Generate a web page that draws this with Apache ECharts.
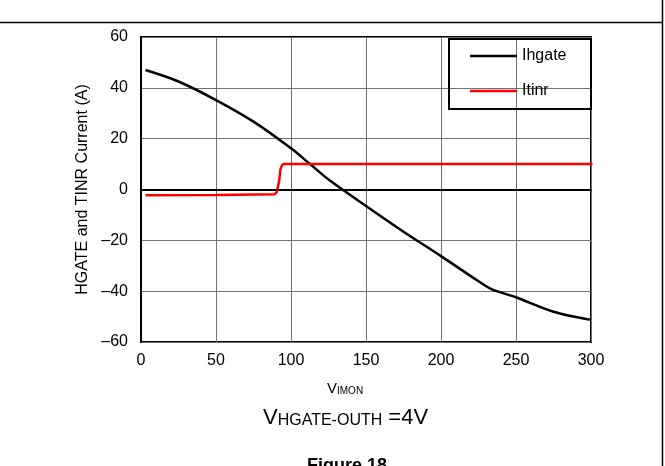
<!DOCTYPE html>
<html>
<head>
<meta charset="utf-8">
<script src="https://cdn.jsdelivr.net/npm/echarts@6/dist/echarts.min.js"></script>
<style>
html,body{margin:0;padding:0;background:#fff;}
#chart{width:665px;height:466px;}
</style>
</head>
<body>
<div id="chart"></div>
<script>
// Data
var ihgateX = [3, 25, 50, 75, 100, 112.7, 125.5, 150, 175, 200, 225, 234, 250, 275, 300];
var ihgateY = [47, 42.5, 35.2, 26.7, 16.2, 10, 3.7, -6.5, -16.6, -26.2, -36.1, -39.3, -42.4, -48.1, -51.3];
var itinrX = [3, 50, 89, 90.5, 92, 93, 94.2, 96, 301];
var itinrY = [-2.3, -2.2, -1.9, -1, 3, 8, 9.8, 10, 10];
var xTicks = [0, 50, 100, 150, 200, 250, 300];
var yTicks = [-60, -40, -20, 0, 20, 40, 60];
var seriesNames = ['Ihgate', 'Itinr'];

function pairs(xs, ys){ return xs.map(function(x,i){ return [x, ys[i]]; }); }
function fmtY(v){ return v < 0 ? '\u2013' + Math.abs(v) : String(v); }

var chart = echarts.init(document.getElementById('chart'), null, {renderer:'canvas'});
var font = 'Arial, "Liberation Sans", sans-serif';
var lineIcon = 'path://M0,0 L100,0 L100,5.5 L0,5.5 Z';

chart.setOption({
  animation: false,
  backgroundColor: '#fff',
  grid: {left: 141, right: 74, top: 37, bottom: 124, show: true, borderColor: '#000', borderWidth: 2, backgroundColor: 'transparent'},
  xAxis: {
    type: 'value', min: xTicks[0], max: xTicks[xTicks.length-1], interval: 50,
    axisLine: {show: true, lineStyle: {color: '#000', width: 2}},
    axisTick: {show: false},
    axisLabel: {color: '#000', fontSize: 16, fontFamily: font, margin: 11},
    splitLine: {show: true, lineStyle: {color: '#707070', width: 1}}
  },
  yAxis: {
    type: 'value', min: yTicks[0], max: yTicks[yTicks.length-1], interval: 20,
    axisLine: {show: true, onZero: false, lineStyle: {color: '#000', width: 2}},
    axisTick: {show: false},
    axisLabel: {color: '#000', fontSize: 16, fontFamily: font, margin: 13, formatter: fmtY},
    splitLine: {show: true, lineStyle: {color: '#707070', width: 1}},
    name: 'HGATE and TINR Current (A)', nameLocation: 'middle', nameGap: 46,
    nameTextStyle: {color: '#000', fontSize: 16, fontFamily: font}
  },
  legend: {
    left: 470, top: 48, orient: 'vertical', padding: 0, itemGap: 19,
    itemWidth: 47, itemHeight: 16,
    textStyle: {color: '#000', fontSize: 16, fontFamily: font},
    data: [{name: seriesNames[0], icon: lineIcon}, {name: seriesNames[1], icon: lineIcon}]
  },
  series: [
    {name: seriesNames[0], type: 'line', symbol: 'none', smooth: 0.3, data: pairs(ihgateX, ihgateY),
     lineStyle: {color: '#000', width: 2.5}, itemStyle: {color: '#000'}, z: 3,
     markLine: {silent: true, symbol: 'none', label: {show: false}, lineStyle: {color: '#000', width: 1, type: 'solid'}, data: [{yAxis: 0}]}},
    {name: seriesNames[1], type: 'line', symbol: 'none', data: pairs(itinrX, itinrY),
     lineStyle: {color: '#ff0000', width: 2.5}, itemStyle: {color: '#ff0000'}, z: 4}
  ],
  graphic: [
    {type: 'rect', left: 448, top: 38, shape: {width: 142, height: 70}, style: {fill: 'transparent', stroke: '#000', lineWidth: 2}, z: 10},
    {type: 'line', shape: {x1: 0, y1: 22.5, x2: 662, y2: 22.5}, style: {stroke: '#000', lineWidth: 1.5}},
    {type: 'line', shape: {x1: 662.5, y1: 0, x2: 662.5, y2: 466}, style: {stroke: '#000', lineWidth: 1.5}},
    {type: 'text', left: 327, top: 381, style: {text: '{v|V}{s|IMON}', rich: {v: {fontSize: 15, fontFamily: font, fill: '#000', verticalAlign: 'bottom', lineHeight: 17}, s: {fontSize: 10, fontFamily: font, fill: '#000', verticalAlign: 'bottom', lineHeight: 6}}}},
    {type: 'text', left: 263, top: 407, style: {text: '{v|V}{s|HGATE-OUTH}{v| =4V}', rich: {v: {fontSize: 22, fontFamily: font, fill: '#000', verticalAlign: 'bottom', lineHeight: 24}, s: {fontSize: 16, fontFamily: font, fill: '#000', verticalAlign: 'bottom', lineHeight: 12}}}},
    {type: 'text', left: 307, top: 457, style: {text: 'Figure 18', fontSize: 18, fontWeight: 'bold', fontFamily: font, fill: '#000'}}
  ]
});
</script>
</body>
</html>
